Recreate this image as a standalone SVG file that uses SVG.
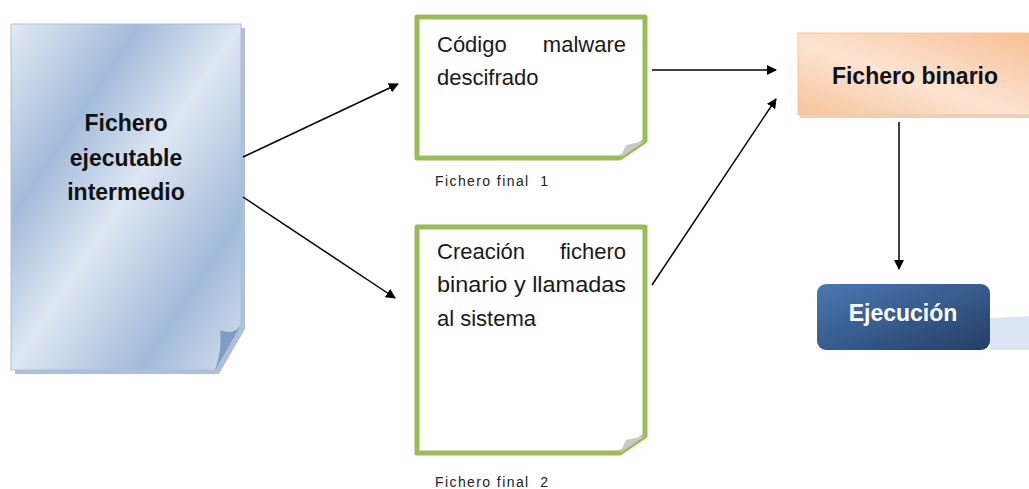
<svg xmlns="http://www.w3.org/2000/svg" width="1029" height="489" viewBox="0 0 1029 489">
<defs>
<linearGradient id="gBlue" x1="0" y1="0" x2="1" y2="1">
<stop offset="0" stop-color="#e2eaf3"/>
<stop offset="0.28" stop-color="#a3bbdb"/>
<stop offset="0.5" stop-color="#dde7f2"/>
<stop offset="0.78" stop-color="#a2bada"/>
<stop offset="1" stop-color="#d5e1ef"/>
</linearGradient>
<linearGradient id="gOrange" x1="0" y1="1" x2="1" y2="0">
<stop offset="0" stop-color="#f6c49b"/>
<stop offset="0.45" stop-color="#fce4d2"/>
<stop offset="1" stop-color="#f7be92"/>
</linearGradient>
<linearGradient id="gDark" x1="0" y1="0" x2="1" y2="1">
<stop offset="0" stop-color="#4a78b3"/>
<stop offset="1" stop-color="#243f66"/>
</linearGradient>
<marker id="arr" viewBox="0 0 10 10" refX="9" refY="5" markerWidth="10" markerHeight="10" markerUnits="userSpaceOnUse" orient="auto">
<path d="M0,0 L10,5 L0,10 z" fill="#000"/>
</marker>
<style>
.big{font-family:"Liberation Sans",Arial,sans-serif;font-weight:bold;font-size:23px;fill:#111}
.note{font-family:"Liberation Sans",Arial,sans-serif;font-size:22px;fill:#1a1a1a}
.cap{font-family:"Liberation Sans",Arial,sans-serif;font-size:14px;fill:#222;white-space:pre}
.green{fill:#fff;stroke:#9bbb59;stroke-width:5;stroke-linejoin:round}
.conn{stroke:#000;stroke-width:1.5;fill:none;marker-end:url(#arr)}
</style>
</defs>
<rect width="1029" height="489" fill="#fff"/>

<g id="node-intermedio">
<path d="M15,28 L245,28 L245,329 L219,374 L15,374 Z" fill="#7a95b8" opacity="0.6"/>
<path d="M11,24 L241,24 L241,325 L215,370 L11,370 Z" fill="url(#gBlue)" stroke="#a9bfdc" stroke-width="1"/>
<path d="M241,325 C234,335 225,332 220,330 C222,345 219,358 215,370 Z" fill="#7f9cc4"/>
<text class="big" x="126" y="131" text-anchor="middle">Fichero</text>
<text class="big" x="126" y="166" text-anchor="middle">ejecutable</text>
<text class="big" x="126" y="200" text-anchor="middle">intermedio</text>
</g>

<g id="node-final1">
<path class="green" d="M417,17 L645,17 L645,141 L620,158 L417,158 Z"/>
<path d="M645,141 L620,158 L626,145 Z" fill="#c8c8c8"/>
<text class="note" x="437" y="52">Código</text>
<text class="note" x="626" y="52" text-anchor="end">malware</text>
<text class="note" x="437" y="85">descifrado</text>
<text class="cap" x="435" y="186" textLength="113" lengthAdjust="spacing">Fichero final  1</text>
</g>

<g id="node-final2">
<path class="green" d="M417,227 L645,227 L645,436 L620,453 L417,453 Z"/>
<path d="M645,436 L620,453 L626,440 Z" fill="#c8c8c8"/>
<text class="note" x="437" y="259">Creación</text>
<text class="note" x="626" y="259" text-anchor="end">fichero</text>
<text class="note" x="437" y="292" textLength="189" lengthAdjust="spacingAndGlyphs">binario y llamadas</text>
<text class="note" x="437" y="326">al sistema</text>
<text class="cap" x="435" y="487" textLength="113" lengthAdjust="spacing">Fichero final  2</text>
</g>

<g id="node-binario">
<rect x="800" y="36" width="240" height="82" fill="#d9b59a" opacity="0.6"/>
<rect x="798" y="33" width="240" height="82" fill="url(#gOrange)" stroke="#f3c8a6" stroke-width="1"/>
<text class="big" x="915" y="84" text-anchor="middle">Fichero binario</text>
</g>

<g id="node-ejecucion">
<path d="M990,318 L1029,316 L1029,350 L990,350 Z" fill="#dbe5f1"/>
<rect x="817" y="284" width="173" height="66" rx="9" fill="url(#gDark)"/>
<text class="big" x="903" y="321" text-anchor="middle" style="fill:#fff">Ejecución</text>
</g>

<g id="connectors">
<line class="conn" x1="243" y1="157" x2="398" y2="84"/>
<line class="conn" x1="243" y1="197" x2="395" y2="298"/>
<line class="conn" x1="652" y1="70" x2="776" y2="70"/>
<line class="conn" x1="652" y1="285" x2="776" y2="99"/>
<line class="conn" x1="899" y1="122" x2="899" y2="269"/>
</g>
</svg>
